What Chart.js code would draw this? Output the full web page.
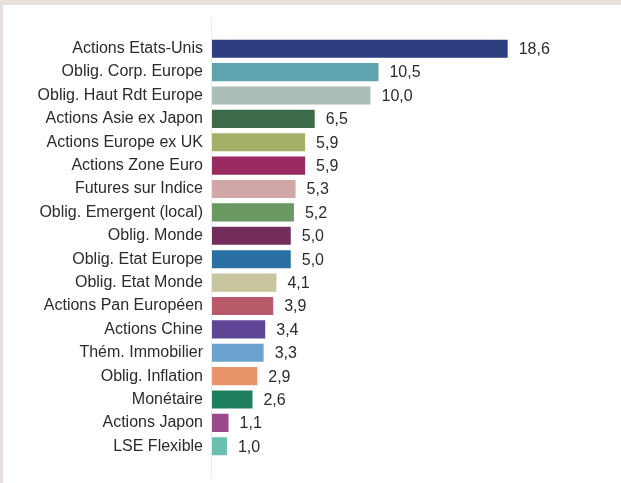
<!DOCTYPE html>
<html>
<head>
<meta charset="utf-8">
<script src="https://cdn.jsdelivr.net/npm/chart.js@4"></script>
<style>
  html, body { margin: 0; padding: 0; background: #e6e1dd; }
  #cadre { position: absolute; left: 3px; top: 5px; width: 618px; height: 478px; background: #fff; }
</style>
</head>
<body>
<div id="cadre"><canvas id="graficoRepartition" width="618" height="478"></canvas></div>
<script>
const categorias = [
    'Actions Etats-Unis', 'Oblig. Corp. Europe', 'Oblig. Haut Rdt Europe', 'Actions Asie ex Japon',
    'Actions Europe ex UK', 'Actions Zone Euro', 'Futures sur Indice', 'Oblig. Emergent (local)',
    'Oblig. Monde', 'Oblig. Etat Europe', 'Oblig. Etat Monde', 'Actions Pan Européen',
    'Actions Chine', 'Thém. Immobilier', 'Oblig. Inflation', 'Monétaire',
    'Actions Japon', 'LSE Flexible'
];
const valores = [18.6, 10.5, 10.0, 6.5, 5.9, 5.9, 5.3, 5.2, 5.0, 5.0, 4.1, 3.9, 3.4, 3.3, 2.9, 2.6, 1.1, 1.0];
const cores = [
    '#2e3d7f', '#5ea3ae', '#a9bfb6', '#3d6b4a', '#a3b068', '#9a2b62',
    '#d1a6a6', '#6a9a62', '#722d5a', '#2a6fa3', '#c6c59e', '#b85a6a',
    '#5e4596', '#6aa3d0', '#e8956c', '#1e7f5c', '#9a4a8c', '#6bbfae'
];

const fonte = { family: "'Liberation Sans', Arial, sans-serif", size: 16 };
const corTexto = '#2b2b2b';

// rótulos de valor à direita das barras
const rotulosValor = {
    id: 'rotulosValor',
    afterDatasetsDraw(chart) {
        const ctx = chart.ctx;
        const meta = chart.getDatasetMeta(0);
        ctx.save();
        ctx.font = `${fonte.size}px ${fonte.family}`;
        ctx.fillStyle = corTexto;
        ctx.textAlign = 'left';
        ctx.textBaseline = 'middle';
        meta.data.forEach((bar, i) => {
            ctx.fillText(valores[i].toFixed(1).replace('.', ','), bar.x + 10, bar.y + 1);
        });
        ctx.restore();
    }
};

// linha do eixo vertical, mais longa que a área das barras
const linhaEixo = {
    id: 'linhaEixo',
    beforeDatasetsDraw(chart) {
        const { ctx, chartArea } = chart;
        ctx.save();
        ctx.strokeStyle = '#ececec';
        ctx.lineWidth = 1;
        ctx.beginPath();
        ctx.moveTo(chartArea.left - 0.5, chartArea.top - 20);
        ctx.lineTo(chartArea.left - 0.5, chartArea.bottom + 20);
        ctx.stroke();
        ctx.restore();
    }
};

const ctx = document.getElementById('graficoRepartition').getContext('2d');
const myChart = new Chart(ctx, {
    type: 'bar',
    data: {
        labels: categorias,
        datasets: [{
            data: valores,
            backgroundColor: cores,
            borderColor: 'rgba(255,255,255,0.35)',
            borderWidth: 1,
            categoryPercentage: 1,
            barPercentage: 0.86
        }]
    },
    options: {
        indexAxis: 'y',
        responsive: false,
        animation: false,
        layout: { padding: { left: 0, right: 90, top: 32, bottom: 25 } },
        scales: {
            x: { display: false, min: 0, max: 20 },
            y: {
                afterFit: (scale) => { scale.width = 209; },
                grid: { display: false },
                border: { display: false },
                ticks: { autoSkip: false, padding: 1, color: corTexto, font: fonte }
            }
        },
        plugins: {
            legend: { display: false },
            tooltip: { enabled: false }
        }
    },
    plugins: [linhaEixo, rotulosValor]
});
</script>
</body>
</html>
